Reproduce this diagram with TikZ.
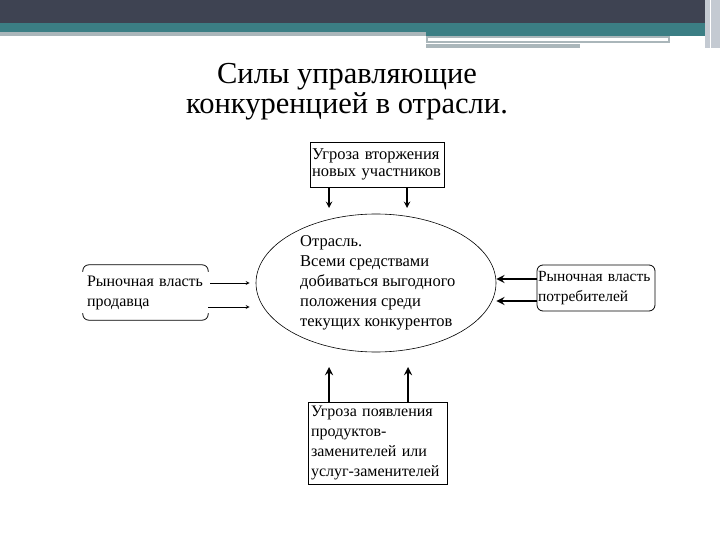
\documentclass[tikz,border=0pt]{standalone}
\usepackage{fontspec}
\setmainfont{Liberation Serif}
\usetikzlibrary{shapes.geometric}

\definecolor{hdrdark}{RGB}{62,67,82}
\definecolor{hdrteal}{RGB}{59,126,132}
\definecolor{hdrgrey}{RGB}{170,182,186}
\definecolor{hdrlight}{RGB}{196,202,210}

\tikzset{box/.style={draw, align=left, inner sep=3pt, line width=0.8pt},
    boxtext/.style={font=\fontsize{16.5}{20}\selectfont},
    thin arrow/.style={-stealth, line width=0.8pt},
    mid arrow/.style={-stealth, line width=1.8pt},
    thick arrow/.style={-stealth, line width=2.6pt}}

\begin{document}
\begin{tikzpicture}[x=1pt,y=-1pt]
\useasboundingbox (0,0) rectangle (720,540);
% header bands
\fill[hdrdark] (0,0) rectangle (720,23);
\fill[hdrteal] (0,23) rectangle (705,36);
\fill[hdrgrey] (0,32) rectangle (426,36);
\fill[hdrgrey] (426,36) rectangle (670,43);
\fill[white] (428,38) rectangle (668,41);
\fill[hdrgrey] (426,44) rectangle (580,48);
\fill[hdrlight] (705,0) rectangle (720,48);
\draw[white, line width=0.6pt] (710,0) -- (710,48);

% title
\node[font=\fontsize{30.5}{30}\selectfont, align=center] (title) at (347,92) {Силы управляющие\\конкуренцией в отрасли.};

% boxes
\node[box, font=\fontsize{16.5}{17}\selectfont, text width=130, minimum height=45, inner sep=2pt] (entry) at (377,164.5) {Угроза вторжения\\новых участников};
\node[ellipse, draw, line width=0.6pt, minimum width=240, minimum height=138] (industry) at (376,283) {};
\node[boxtext, align=left, inner sep=0pt, anchor=west] (industrytext) at (300,283) {Отрасль.\\Всеми средствами\\добиваться выгодного\\положения среди\\текущих конкурентов};
\node[boxtext, font=\fontsize{16}{20}\selectfont, align=left, text width=117, minimum height=55, inner sep=4pt] (seller) at (145.5,292.5) {Рыночная~власть\\продавца};
\node[box, font=\fontsize{15.5}{20}\selectfont, rounded corners=6pt, text width=116, minimum height=46, inner sep=1pt] (buyer) at (596,288) {Рыночная~власть\\потребителей};
\node[box, font=\fontsize{16}{20}\selectfont, text width=133, minimum height=82, inner sep=3pt] (substitutes) at (377.5,443) {Угроза появления\\продуктов-\\заменителей или\\услуг-заменителей};

% open frame round the seller box
\draw[line width=0.8pt, rounded corners=6pt] ([yshift=-7pt]seller.north west) -- (seller.north west) -- (seller.north east) -- ([yshift=-7pt]seller.north east);
\draw[line width=0.8pt, rounded corners=6pt] ([yshift=7pt]seller.south west) -- (seller.south west) -- (seller.south east) -- ([yshift=7pt]seller.south east);

% arrow ends
\coordinate (e1) at (329,208);
\coordinate (e2) at (407,208);
\coordinate (s1) at (329,367);
\coordinate (s2) at (408,367);

\draw[mid arrow] (entry.south -| e1) -- (e1);
\draw[mid arrow] (entry.south -| e2) -- (e2);
\draw[thick arrow] (substitutes.north -| s1) -- (s1);
\draw[thick arrow] (substitutes.north -| s2) -- (s2);
\draw[thin arrow] ([xshift=2pt,yshift=9.5pt]seller.east) -- ([xshift=-6pt,yshift=9.5pt]seller.east -| industry.west);
\draw[thin arrow] ([yshift=-14.5pt]seller.east) -- ([xshift=-6pt,yshift=-14.5pt]seller.east -| industry.west);
\draw[thick arrow] ([yshift=9pt]buyer.west) -- ([yshift=9pt]buyer.west -| industry.east);
\draw[thick arrow] ([yshift=-13pt]buyer.west) -- ([yshift=-13pt]buyer.west -| industry.east);

\end{tikzpicture}
\end{document}
